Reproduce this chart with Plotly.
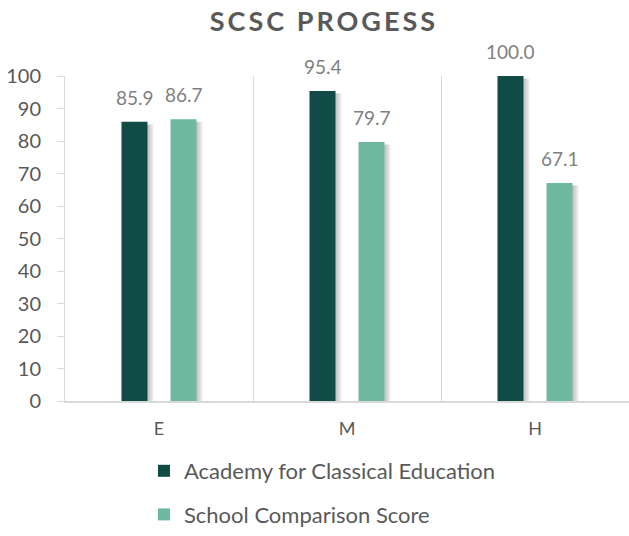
import plotly.graph_objects as go

categories = ["E", "M", "H"]
academy = [85.9, 95.4, 100.0]
comparison = [86.7, 79.7, 67.1]
series_names = ["Academy for Classical Education", "School Comparison Score"]
colors = ["#104B45", "#6EB8A0"]
y_ticks = list(range(0, 101, 10))

FONT = "Lato"
CAT_PX = 188.0
BAR_W = 26 / CAT_PX
OFFSETS = [-37.5 / CAT_PX, 11.5 / CAT_PX]
PX = 1 / CAT_PX  # one pixel in category units

fig = go.Figure()

# soft drop shadows behind bars
for vals, off in zip([academy, comparison], OFFSETS):
    for k in (2, 4, 6):
        fig.add_trace(go.Bar(
            x=categories, y=[v - 0.8 for v in vals], base=0,
            width=BAR_W, offset=off + k * PX,
            marker=dict(color="rgba(0,0,0,0.08)", line=dict(width=0)),
            showlegend=False, hoverinfo="skip",
        ))

for i, (name, vals, col, off) in enumerate(zip(series_names, [academy, comparison], colors, OFFSETS)):
    fig.add_trace(go.Bar(
        x=categories, y=vals, name=name, width=BAR_W, offset=off,
        marker=dict(color=col, line=dict(width=0)),
        legendgroup=f"g{i}",
    ))
    for c, v in zip(categories, vals):
        fig.add_annotation(
            x=c, y=v, text=f"{v:.1f}", showarrow=False,
            xshift=(off + BAR_W / 2) * CAT_PX, yshift=11, yanchor="bottom",
            font=dict(family=FONT, size=19, color="#7F7F7F"),
        )

fig.update_layout(
    width=629, height=536,
    margin=dict(l=65, r=0, t=76, b=135, autoexpand=False),
    barmode="overlay",
    paper_bgcolor="white", plot_bgcolor="white",
    title=dict(
        text='<span style="letter-spacing:3px"><b>SCSC PROGESS</b></span>',
        x=0.515, xanchor="center", y=0.96, yanchor="middle",
        font=dict(family=FONT, size=27, color="#595959"),
    ),
    showlegend=True,
    legend=dict(
        orientation="v", x=0.14, xanchor="left",
        yref="container", y=0.0, yanchor="bottom",
        font=dict(family=FONT, size=22, color="#595959"),
        tracegroupgap=12, bgcolor="rgba(0,0,0,0)",
    ),
    xaxis=dict(
        type="category", tickson="boundaries", showgrid=True,
        gridcolor="#D9D9D9", gridwidth=1,
        showline=True, linecolor="#D9D9D9", linewidth=1.5,
        ticks="", ticklabelstandoff=11, automargin=False,
        tickfont=dict(family=FONT, size=18, color="#595959"),
        range=[-0.5, 2.5], zeroline=False,
    ),
    yaxis=dict(
        range=[0, 100], tickvals=y_ticks, showgrid=False,
        showline=True, linecolor="#D9D9D9", linewidth=1,
        ticks="outside", ticklen=7, tickcolor="#D9D9D9", automargin=False,
        ticklabelstandoff=12,
        tickfont=dict(family=FONT, size=20, color="#595959"),
        zeroline=False,
    ),
)

fig.write_html("out.html", config={"displayModeBar": False},
               post_script="document.body.style.margin='0';")
